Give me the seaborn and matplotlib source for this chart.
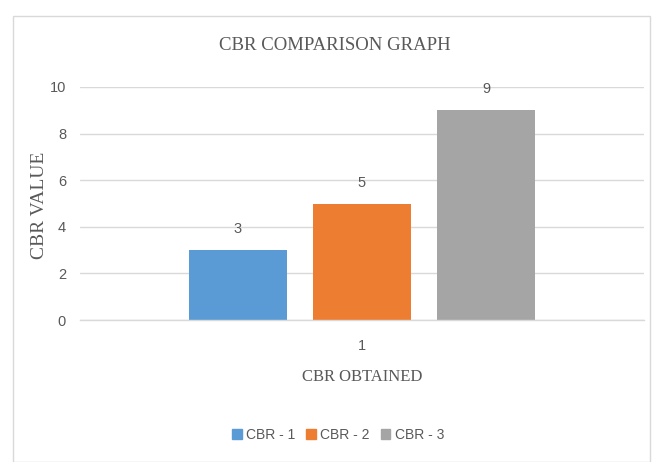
import matplotlib
matplotlib.use("Agg")
import matplotlib.pyplot as plt
import seaborn as sns
import pandas as pd
from matplotlib.patches import Rectangle

categories = ["1", "1", "1"]
series = ["CBR - 1", "CBR - 2", "CBR - 3"]
values = [3, 5, 9]
colors = ["#5B9BD5", "#ED7D31", "#A5A5A5"]
yticks = [0, 2, 4, 6, 8, 10]

sns.set_theme(style="white")
narrow = ["Liberation Sans Narrow", "Liberation Sans", "DejaVu Sans"]
serif = ["Liberation Serif", "DejaVu Serif"]
txt = "#595959"

df = pd.DataFrame({"cat": categories, "series": series, "value": values})

fig = plt.figure(figsize=(6.62, 4.62), dpi=100)
ax = fig.add_axes([80/662, 1-320/462, (644-80)/662, (320-87)/462])

sns.barplot(data=df, x="cat", y="value", hue="series", palette=colors,
            width=0.66, gap=0.21, ax=ax, legend=False, saturation=1,
            edgecolor="none")

ax.set_ylim(0, 10)
ax.set_xlim(-0.5, 0.5)
ax.set_yticks(yticks)
ax.set_yticklabels([str(t) for t in yticks], family=narrow, fontsize=10.5, color=txt)
ax.set_xticks([0])
ax.set_xticklabels(["1"], family=narrow, fontsize=10.5, color=txt)
ax.tick_params(axis="y", length=0, pad=10)
ax.tick_params(axis="x", length=0, pad=14)
ax.yaxis.grid(True, color="#D9D9D9", linewidth=1)
ax.set_axisbelow(True)
for s in ["left", "right", "top"]:
    ax.spines[s].set_visible(False)
ax.spines["bottom"].set_color("#D9D9D9")
ax.spines["bottom"].set_linewidth(1)

for cont in ax.containers:
    ax.bar_label(cont, padding=10, family=narrow, fontsize=10.5, color=txt)

ax.set_xlabel("CBR OBTAINED", family=serif, fontsize=12, color=txt)
ax.xaxis.set_label_coords(0.5, -(377-320)/233)
ax.xaxis.label.set_va("center")
ax.set_ylabel("CBR VALUE", family=serif, fontsize=14, color=txt)
ax.yaxis.set_label_coords(-(80-40)/564, (320-205)/233)
ax.yaxis.label.set_va("center")

fig.text(335/662, 1-45/462, "CBR COMPARISON GRAPH", family=serif, fontsize=13.5,
         color=txt, ha="center", va="center")

handles = [Rectangle((0, 0), 1, 1, color=c) for c in colors]
fig.legend(handles, series, loc="center", bbox_to_anchor=(338/662, 1-435/462),
           ncol=3, frameon=False, handlelength=0.7, handleheight=0.7,
           handletextpad=0.3, columnspacing=0.8,
           prop={"family": narrow, "size": 10}, labelcolor=txt)

fig.patches.append(Rectangle((13/662, 0.0), (650-13)/662, 1-16/462,
                             transform=fig.transFigure, fill=False,
                             edgecolor="#D9D9D9", linewidth=1))

fig.savefig("out.png", dpi=100)
